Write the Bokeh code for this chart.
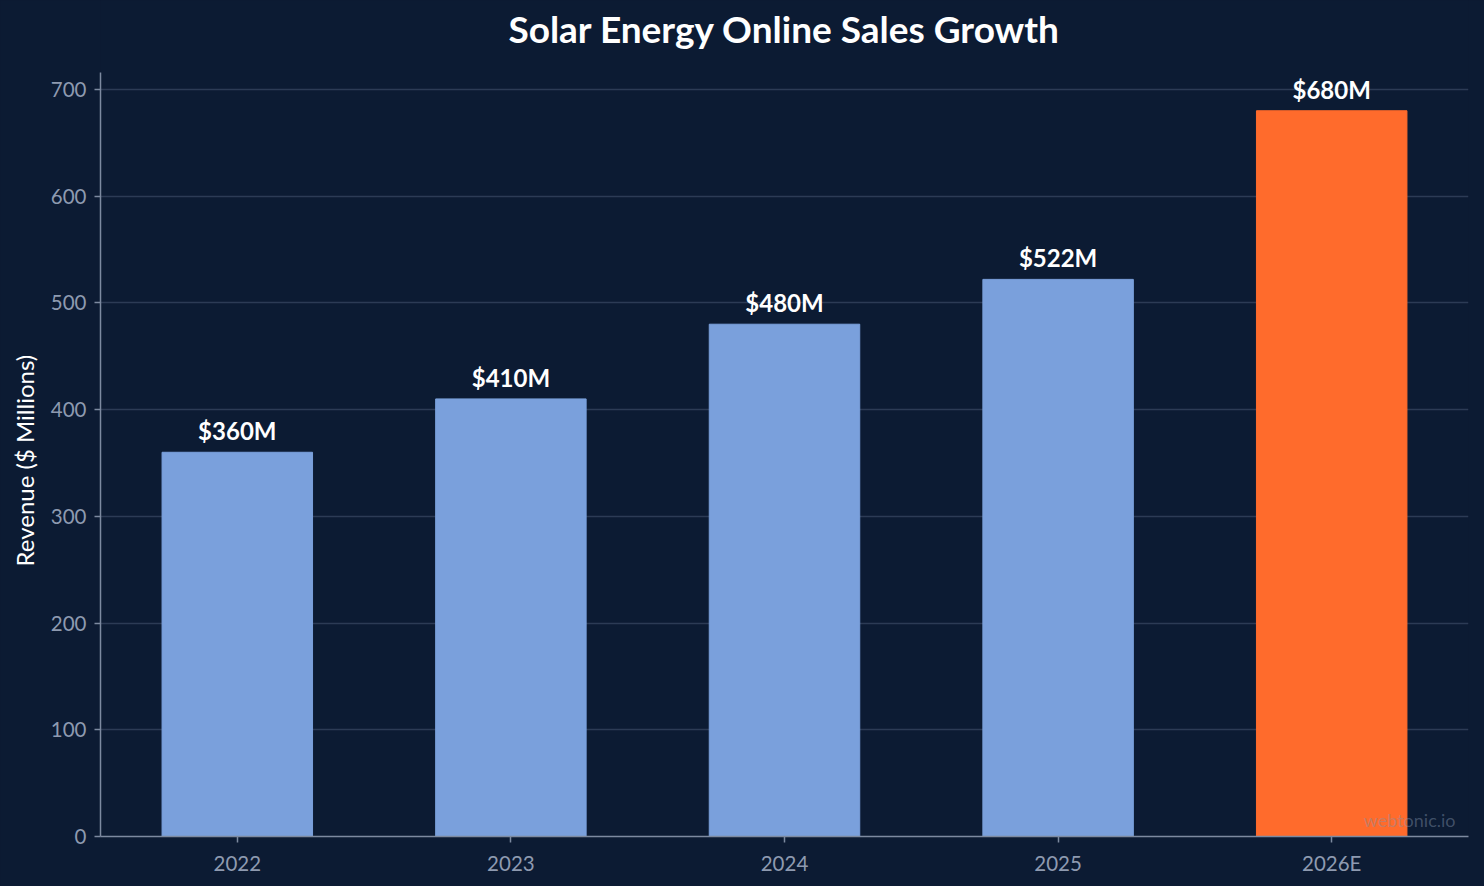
from bokeh.plotting import figure
from bokeh.models import ColumnDataSource, Range1d, Label, Title
from bokeh.core.properties import value
from bokeh.embed import file_html
from bokeh.resources import INLINE

years = ["2022", "2023", "2024", "2025", "2026E"]
revenue = [360, 410, 480, 522, 680]
bar_colors = ["#7aa0dc", "#7aa0dc", "#7aa0dc", "#7aa0dc", "#ff6b2c"]
labels = ["$" + str(v) + "M" for v in revenue]
y_ticks = [0, 100, 200, 300, 400, 500, 600, 700]
title_text = "Solar Energy Online Sales Growth"
y_label = "Revenue ($ Millions)"

BG = "#0c1b33"
FONT = "Lato"

src = ColumnDataSource(dict(x=years, y=revenue, c=bar_colors, t=labels))

# frame spans the whole height above the x axis; the axis line itself is bounded
p = figure(x_range=years, y_range=Range1d(0, 783.3), width=1484, height=886,
           output_backend="svg", toolbar_location=None,
           min_border_left=99, min_border_right=16, min_border_top=0, min_border_bottom=50)
p.styles = {"background-color": BG}
p.x_range.range_padding = 0
p.background_fill_color = BG
p.border_fill_color = BG
p.outline_line_color = None

p.vbar(x="x", top="y", width=0.55, color="c", source=src)
p.text(x="x", y="y", text="t", source=src, text_align="center", text_baseline="bottom",
       y_offset=-7, text_color="white", text_font=value(FONT), text_font_style="bold",
       text_font_size="24px")

title = Label(x=684, y=808, x_units="screen", y_units="screen",
              text=title_text, text_align="center",
              text_baseline="middle", text_color="white", text_font=FONT,
              text_font_style="bold", text_font_size="37px")
p.add_layout(title)

for ax in (p.xaxis[0], p.yaxis[0]):
    ax.axis_line_color = "#7d8aa0"
    ax.axis_line_width = 1.5
    ax.major_tick_line_color = "#7d8aa0"
    ax.major_tick_line_width = 1.5
    ax.major_tick_out = 6
    ax.major_tick_in = 0
    ax.minor_tick_line_color = None
    ax.major_label_text_color = "#8e9ab0"
    ax.major_label_text_font = FONT
    ax.major_label_text_font_size = "20.5px"

p.xaxis.major_label_standoff = 8
p.yaxis.major_label_standoff = 8
p.yaxis.ticker = y_ticks
p.yaxis.bounds = (0, 716)

ylab = Title(text=y_label, align="left", offset=270, vertical_align="middle",
             standoff=16, text_color="white", text_font=FONT,
             text_font_size="24px", text_font_style="normal")
p.add_layout(ylab, "left")

p.xgrid.grid_line_color = None
p.ygrid.grid_line_color = "#2c3b55"
p.ygrid.grid_line_width = 1.5

wm = Label(x=1355, y=17, x_units="screen", y_units="screen", text="webtonic.io",
           text_align="right", text_baseline="middle", text_color="#8090a8", text_alpha=0.45,
           text_font=FONT, text_font_size="18px")
p.add_layout(wm)

open("out.html", "w").write(file_html(p, INLINE))
